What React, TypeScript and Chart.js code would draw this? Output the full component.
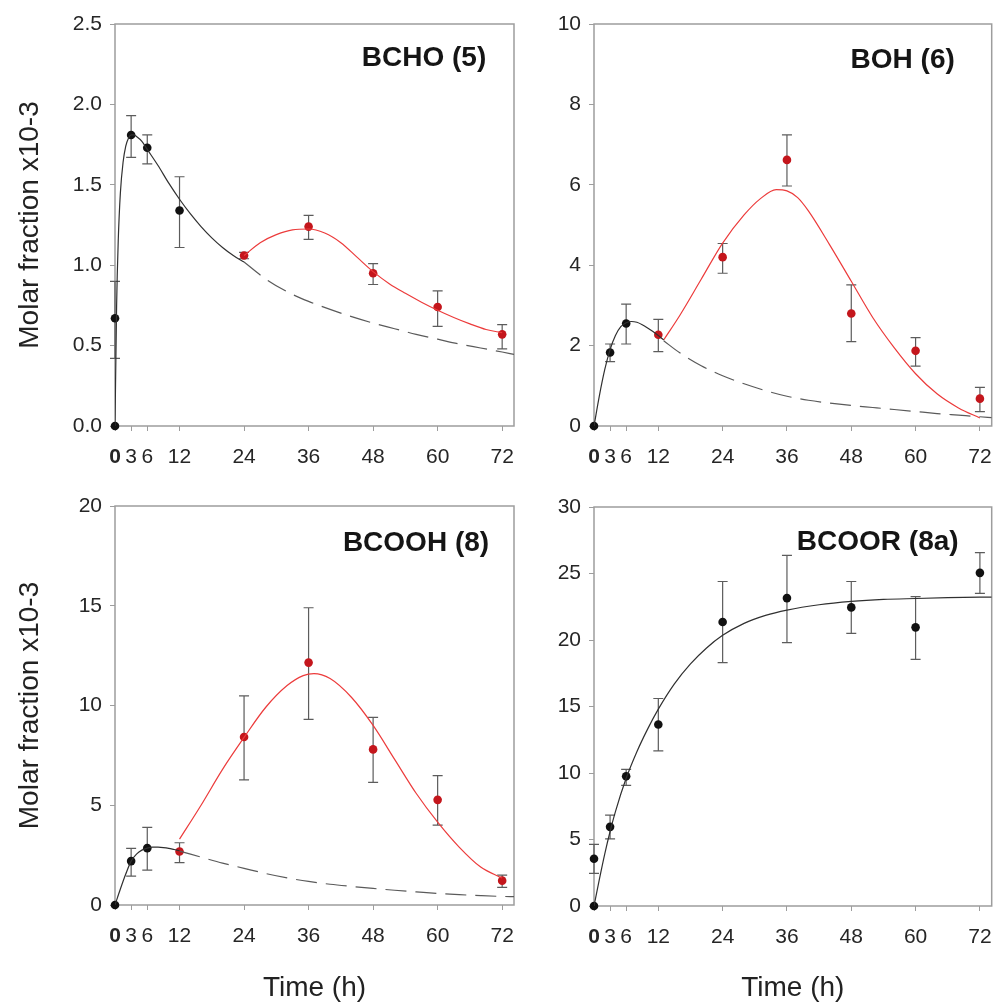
import React, { useEffect, useRef } from 'react';
import { Chart, registerables } from 'chart.js';
Chart.register(...registerables);

const FONT = "'Liberation Sans', Arial, Helvetica, sans-serif";

// ---------- shared ----------
const timeTicks = [0, 3, 6, 12, 24, 36, 48, 60, 72];

// ---------- BCHO (5) ----------
const bchoBlackT = [0, 0, 3, 6, 12];
const bchoBlackY = [0, 0.67, 1.81, 1.73, 1.34];
const bchoBlackLo = [0, 0.42, 1.67, 1.63, 1.11];
const bchoBlackHi = [0, 0.9, 1.93, 1.81, 1.55];
const bchoRedT = [24, 36, 48, 60, 72];
const bchoRedY = [1.06, 1.24, 0.95, 0.74, 0.57];
const bchoRedLo = [1.04, 1.16, 0.88, 0.62, 0.48];
const bchoRedHi = [1.08, 1.31, 1.01, 0.84, 0.63];
const bchoFitT = [0, 0.3, 0.6, 1, 1.5, 2, 2.5, 3, 3.5, 4, 5, 6, 8, 10, 12, 14, 16, 18, 20, 22, 24];
const bchoFitY = [0, 0.75, 1.15, 1.45, 1.64, 1.74, 1.79, 1.81, 1.81, 1.8, 1.77, 1.72, 1.62, 1.51, 1.41, 1.32, 1.24, 1.17, 1.11, 1.06, 1.02];
const bchoDashT = [24, 28, 32, 36, 40, 44, 48, 52, 56, 60, 64, 68, 72, 74.2];
const bchoDashY = [1.02, 0.915, 0.835, 0.775, 0.725, 0.68, 0.64, 0.605, 0.57, 0.54, 0.51, 0.485, 0.46, 0.445];
const bchoRedFitT = [24, 27, 30, 33, 36, 39, 42, 45, 48, 51, 54, 57, 60, 63, 66, 69, 72];
const bchoRedFitY = [1.06, 1.14, 1.19, 1.22, 1.225, 1.2, 1.14, 1.05, 0.96, 0.885, 0.825, 0.77, 0.72, 0.675, 0.635, 0.6, 0.58];

// ---------- BOH (6) ----------
const bohBlackT = [0, 3, 6];
const bohBlackY = [0, 1.83, 2.55];
const bohBlackLo = [0, 1.6, 2.04];
const bohBlackHi = [0, 2.04, 3.03];
const bohRedT = [12, 24, 36, 48, 60, 72];
const bohRedY = [2.27, 4.2, 6.62, 2.8, 1.87, 0.68];
const bohRedLo = [1.85, 3.8, 5.97, 2.1, 1.49, 0.36];
const bohRedHi = [2.65, 4.54, 7.24, 3.51, 2.2, 0.96];
const bohFitT = [0, 1, 2, 3, 4, 5, 6, 7, 8, 9, 10, 11, 12, 13];
const bohFitY = [0, 0.75, 1.4, 1.9, 2.25, 2.47, 2.57, 2.6, 2.58, 2.52, 2.44, 2.35, 2.25, 2.14];
const bohDashT = [13, 16, 20, 24, 28, 32, 36, 40, 44, 48, 52, 56, 60, 64, 68, 72, 74.2];
const bohDashY = [2.12, 1.82, 1.5, 1.25, 1.05, 0.88, 0.74, 0.64, 0.57, 0.51, 0.46, 0.41, 0.36, 0.31, 0.27, 0.23, 0.21];
const bohRedFitT = [13, 16, 20, 24, 28, 31, 34, 36, 38, 40, 44, 48, 52, 56, 60, 64, 68, 72];
const bohRedFitY = [2.14, 2.75, 3.65, 4.55, 5.25, 5.65, 5.88, 5.85, 5.68, 5.35, 4.5, 3.6, 2.7, 1.95, 1.3, 0.8, 0.45, 0.2];

// ---------- BCOOH (8) ----------
const bcoohBlackT = [0, 3, 6];
const bcoohBlackY = [0, 2.2, 2.85];
const bcoohBlackLo = [0, 1.45, 1.75];
const bcoohBlackHi = [0, 2.84, 3.89];
const bcoohRedT = [12, 24, 36, 48, 60, 72];
const bcoohRedY = [2.68, 8.42, 12.15, 7.8, 5.27, 1.22];
const bcoohRedLo = [2.12, 6.27, 9.3, 6.15, 4.0, 0.88];
const bcoohRedHi = [3.12, 10.48, 14.9, 9.4, 6.48, 1.5];
const bcoohFitT = [0, 1, 2, 3, 4, 5, 6, 7, 8, 9, 10, 11, 12];
const bcoohFitY = [0, 0.8, 1.55, 2.2, 2.55, 2.75, 2.85, 2.9, 2.9, 2.88, 2.84, 2.78, 2.72];
const bcoohDashT = [12, 16, 20, 24, 28, 32, 36, 40, 44, 48, 52, 56, 60, 64, 68, 72, 74.2];
const bcoohDashY = [2.7, 2.4, 2.1, 1.84, 1.58, 1.36, 1.18, 1.04, 0.93, 0.83, 0.74, 0.66, 0.58, 0.52, 0.47, 0.43, 0.42];
const bcoohRedFitT = [12, 16, 20, 24, 28, 32, 35, 37, 40, 44, 48, 52, 56, 60, 64, 68, 72];
const bcoohRedFitY = [3.3, 5.0, 6.8, 8.4, 9.9, 11.0, 11.5, 11.6, 11.35, 10.4, 9.0, 7.3, 5.6, 4.15, 2.9, 1.9, 1.35];

// ---------- BCOOR (8a) ----------
const bcoorT = [0, 0, 3, 6, 12, 24, 36, 48, 60, 72];
const bcoorY = [0, 3.55, 5.95, 9.75, 13.65, 21.35, 23.15, 22.45, 20.95, 25.05];
const bcoorLo = [0, 2.46, 5.04, 9.07, 11.67, 18.3, 19.8, 20.5, 18.55, 23.5];
const bcoorHi = [0, 4.64, 6.84, 10.28, 15.6, 24.4, 26.37, 24.4, 23.26, 26.57];
const bcoorFitT = [0, 1, 2, 3, 4, 6, 8, 10, 12, 15, 18, 21, 24, 28, 32, 36, 42, 48, 54, 60, 66, 72, 74.2];
const bcoorFitY = [0, 2.0, 3.9, 5.6, 7.1, 9.6, 11.6, 13.3, 14.8, 16.7, 18.2, 19.4, 20.35, 21.25, 21.85, 22.25, 22.65, 22.9, 23.05, 23.12, 23.18, 23.22, 23.23];

// ---------- helpers ----------
const pts = (t: number[], y: number[]) => t.map((x, i) => ({ x, y: y[i] }));

const fitLine = (t: number[], y: number[], color: string, dash: number[] = []) => ({
  data: pts(t, y),
  showLine: true,
  borderColor: color,
  borderWidth: 1.2,
  borderDash: dash,
  pointRadius: 0,
  cubicInterpolationMode: 'monotone',
  fill: false,
});

const markers = (t: number[], y: number[], lo: number[], hi: number[], color: string) => ({
  data: pts(t, y),
  showLine: false,
  pointRadius: 4.3,
  pointBackgroundColor: color,
  pointBorderColor: color,
  pointBorderWidth: 0,
  errLo: lo,
  errHi: hi,
  clip: false,
});

const framePlugin = {
  id: 'frame',
  beforeDatasetsDraw(chart: any) {
    const { ctx, chartArea: a } = chart;
    ctx.save();
    ctx.strokeStyle = '#9d9d9d';
    ctx.lineWidth = 1.5;
    ctx.strokeRect(a.left, a.top, a.right - a.left, a.bottom - a.top);
    ctx.restore();
  },
};

const errorBarPlugin = {
  id: 'errorBars',
  beforeDatasetsDraw(chart: any) {
    const { ctx } = chart;
    const xs = chart.scales.x;
    const ys = chart.scales.y;
    chart.data.datasets.forEach((ds: any) => {
      if (!ds.errLo) return;
      ctx.save();
      ctx.strokeStyle = '#5c5c5c';
      ctx.lineWidth = 1.2;
      ds.data.forEach((p: any, i: number) => {
        const lo = ds.errLo[i];
        const hi = ds.errHi[i];
        if (hi - lo <= 0) return;
        const px = xs.getPixelForValue(p.x);
        const pl = ys.getPixelForValue(lo);
        const ph = ys.getPixelForValue(hi);
        ctx.beginPath();
        ctx.moveTo(px, pl);
        ctx.lineTo(px, ph);
        ctx.moveTo(px - 5, pl);
        ctx.lineTo(px + 5, pl);
        ctx.moveTo(px - 5, ph);
        ctx.lineTo(px + 5, ph);
        ctx.stroke();
      });
      ctx.restore();
    });
  },
};

const labelPlugin = {
  id: 'panelLabel',
  afterDraw(chart: any, _args: any, opts: any) {
    const { ctx, chartArea: a } = chart;
    ctx.save();
    ctx.font = `bold 28px ${FONT}`;
    ctx.fillStyle = '#151515';
    ctx.textAlign = 'center';
    ctx.textBaseline = 'middle';
    ctx.fillText(opts.text, a.right - opts.dx, a.top + opts.dy);
    ctx.restore();
  },
};

type PanelProps = {
  left: number; top: number; width: number; height: number;
  padTop: number; padRight: number; yAxisW: number; xAxisH: number;
  yMax: number; yStep: number; decimals: number;
  showYTitle: boolean; showXTitle: boolean;
  label: string; labelDx: number; labelDy: number;
  datasets: any[];
};

function Panel(p: PanelProps) {
  const ref = useRef<HTMLCanvasElement | null>(null);
  useEffect(() => {
    if (!ref.current) return;
    const tickFont = (ctx: any) => ({
      family: FONT,
      size: 21,
      weight: ctx && ctx.tick && ctx.tick.value === 0 ? 'bold' : 'normal',
    });
    const chart = new Chart(ref.current, {
      type: 'scatter',
      data: { datasets: p.datasets },
      plugins: [framePlugin, errorBarPlugin, labelPlugin],
      options: {
        responsive: false,
        maintainAspectRatio: false,
        animation: false,
        devicePixelRatio: 1,
        events: [],
        layout: { padding: { top: p.padTop, right: p.padRight, bottom: 0, left: 0 } },
        plugins: {
          legend: { display: false },
          tooltip: { enabled: false },
          panelLabel: { text: p.label, dx: p.labelDx, dy: p.labelDy },
        } as any,
        scales: {
          x: {
            type: 'linear',
            min: 0,
            max: 74.2,
            afterBuildTicks: (s: any) => {
              s.ticks = timeTicks.map((v) => ({ value: v }));
            },
            afterFit: (s: any) => {
              s.height = p.xAxisH;
              s.paddingLeft = 0;
              s.paddingRight = 0;
            },
            grid: { display: true, drawOnChartArea: false, drawTicks: true, tickLength: 5, color: '#9d9d9d', lineWidth: 1 },
            border: { display: false },
            ticks: {
              autoSkip: false,
              maxRotation: 0,
              minRotation: 0,
              padding: 14,
              color: '#262626',
              font: tickFont as any,
              callback: (v: any) => String(v),
            },
            title: {
              display: p.showXTitle,
              text: 'Time (h)',
              color: '#222',
              font: { family: FONT, size: 28 },
              padding: { top: 0, bottom: 1 },
            },
          },
          y: {
            type: 'linear',
            min: 0,
            max: p.yMax,
            afterFit: (s: any) => {
              s.width = p.yAxisW;
              s.paddingTop = 0;
              s.paddingBottom = 0;
            },
            grid: { display: true, drawOnChartArea: false, drawTicks: true, tickLength: 5, color: '#9d9d9d', lineWidth: 1 },
            border: { display: false },
            ticks: {
              stepSize: p.yStep,
              padding: 8,
              color: '#262626',
              font: { family: FONT, size: 21 },
              callback: (v: any) => Number(v).toFixed(p.decimals),
            },
            title: {
              display: p.showYTitle,
              text: 'Molar fraction x10-3',
              color: '#222',
              font: { family: FONT, size: 28 },
              padding: { top: 13, bottom: 0 },
            },
          },
        },
      } as any,
    });
    return () => chart.destroy();
  }, []);
  return (
    <canvas
      ref={ref}
      width={p.width}
      height={p.height}
      style={{ position: 'absolute', left: p.left, top: p.top, width: p.width, height: p.height }}
    />
  );
}

const BLACK = '#111111';
const RED = '#c4161c';
const RED_LINE = '#ec3b3b';
const LINE = '#303030';
const DASH = '#5a5a5a';
const DASH_PATTERN = [21, 9];

export default function App() {
  return (
    <div style={{ position: 'absolute', left: 0, top: 0, width: 996, height: 1006, background: '#fff', overflow: 'hidden' }}>
      <Panel
        left={0} top={0} width={520} height={480} padTop={24} padRight={6} yAxisW={115} xAxisH={54}
        yMax={2.5} yStep={0.5} decimals={1} showYTitle={true} showXTitle={false}
        label="BCHO (5)" labelDx={90} labelDy={34}
        datasets={[
          fitLine(bchoFitT, bchoFitY, LINE),
          fitLine(bchoDashT, bchoDashY, DASH, DASH_PATTERN),
          fitLine(bchoRedFitT, bchoRedFitY, RED_LINE),
          markers(bchoBlackT, bchoBlackY, bchoBlackLo, bchoBlackHi, BLACK),
          markers(bchoRedT, bchoRedY, bchoRedLo, bchoRedHi, RED),
        ]}
      />
      <Panel
        left={531} top={0} width={465} height={480} padTop={24} padRight={3} yAxisW={63} xAxisH={54}
        yMax={10} yStep={2} decimals={0} showYTitle={false} showXTitle={false}
        label="BOH (6)" labelDx={89} labelDy={36}
        datasets={[
          fitLine(bohFitT, bohFitY, LINE),
          fitLine(bohDashT, bohDashY, DASH, DASH_PATTERN),
          fitLine(bohRedFitT, bohRedFitY, RED_LINE),
          markers(bohBlackT, bohBlackY, bohBlackLo, bohBlackHi, BLACK),
          markers(bohRedT, bohRedY, bohRedLo, bohRedHi, RED),
        ]}
      />
      <Panel
        left={0} top={480} width={520} height={526} padTop={26} padRight={6} yAxisW={115} xAxisH={101}
        yMax={20} yStep={5} decimals={0} showYTitle={true} showXTitle={true}
        label="BCOOH (8)" labelDx={98} labelDy={37}
        datasets={[
          fitLine(bcoohFitT, bcoohFitY, LINE),
          fitLine(bcoohDashT, bcoohDashY, DASH, DASH_PATTERN),
          fitLine(bcoohRedFitT, bcoohRedFitY, RED_LINE),
          markers(bcoohBlackT, bcoohBlackY, bcoohBlackLo, bcoohBlackHi, BLACK),
          markers(bcoohRedT, bcoohRedY, bcoohRedLo, bcoohRedHi, RED),
        ]}
      />
      <Panel
        left={531} top={480} width={465} height={526} padTop={27} padRight={3} yAxisW={63} xAxisH={100}
        yMax={30} yStep={5} decimals={0} showYTitle={false} showXTitle={true}
        label="BCOOR (8a)" labelDx={114} labelDy={35}
        datasets={[
          fitLine(bcoorFitT, bcoorFitY, LINE),
          markers(bcoorT, bcoorY, bcoorLo, bcoorHi, BLACK),
        ]}
      />
    </div>
  );
}
